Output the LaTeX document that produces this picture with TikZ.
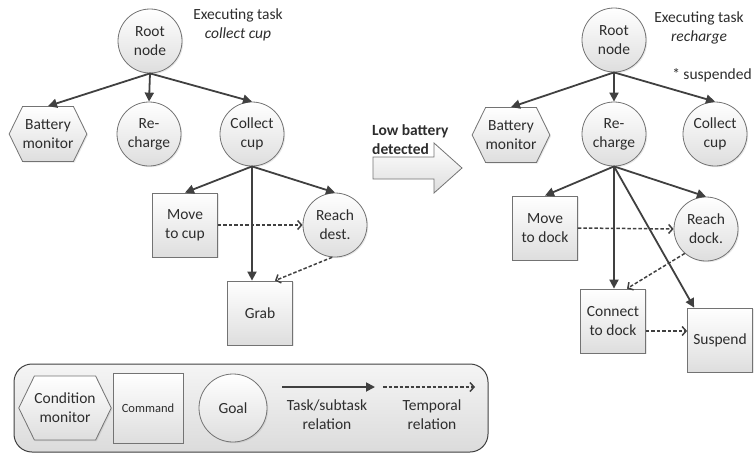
\documentclass[tikz,border=0pt]{standalone}
\usepackage{fontspec}
\setmainfont{Carlito}
\usetikzlibrary{arrows.meta,shapes.geometric,shapes.symbols,shadows}

\definecolor{edge}{RGB}{64,64,64}
\definecolor{rim}{RGB}{115,115,115}
\definecolor{ink}{RGB}{45,45,45}

\tikzset{
  base/.style={draw=rim, line width=0.8pt, top color=white, bottom color=black!13,
    text=ink, font=\fontsize{15.5}{19}\selectfont, align=center, inner sep=0pt,
    drop shadow={opacity=0.18, shadow xshift=1.2pt, shadow yshift=-1.2pt}},
  goal/.style={base, circle, minimum size=64pt},
  cmd/.style={base, rectangle, minimum width=65pt, minimum height=64pt},
  monitor/.style={base, signal, signal to=west and east, signal pointer angle=128,
    minimum width=76pt, minimum height=55pt},
  task/.style={draw=edge, line width=1.8pt, -{Triangle[length=9pt,width=9pt]}},
  temporal/.style={draw=edge, line width=1.5pt, dash pattern=on 3.5pt off 2pt,
    -{Straight Barb[length=4pt,width=9pt]}},
  note/.style={text=ink, font=\fontsize{15.5}{19}\selectfont, align=center, inner sep=0pt},
}

\begin{document}
\begin{tikzpicture}[x=1pt, y=-1pt]
\useasboundingbox (0,0) rectangle (755,453);

% ---------- tree before the switch ----------
\node[goal] (rootA) at (150,41) {Root\\node};
\node[note] (execA) at (238,25) {Executing task\\\textit{collect cup}};
\node[monitor] (batA) at (48,134) {Battery\\monitor};
\node[goal] (rechA) at (149,134) {Re-\\charge};
\node[goal] (collA) at (252,134) {Collect\\cup};
\node[cmd] (moveA) at (185,225) {Move\\to cup};
\node[goal] (reachA) at (335,225) {Reach\\dest.};
\node[cmd] (grabA) at (260,313) {Grab};

\draw[task] (rootA.south) -- (batA.north);
\draw[task] (rootA.south) -- (rechA.north);
\draw[task] (rootA.south) -- (collA.north);
\draw[task] (collA.south) -- (moveA.north);
\draw[task] (collA.south) -- (reachA.north);
\draw[task] (collA.south) -- (collA.south |- grabA.north);
\draw[temporal] (moveA.east) -- (reachA.west);
\draw[temporal] (reachA.265) -- ([xshift=15pt]grabA.north);

% ---------- transition arrow ----------
\node[note, anchor=west, align=left, font=\fontsize{15.5}{19}\selectfont\bfseries] (low) at (372,140) {Low battery\\detected};
\draw[draw=rim, line width=0.8pt, top color=white, bottom color=black!13]
  (373,157) -- (434,157) -- (434,143) -- (462,168) -- (434,193) -- (434,179) -- (373,179) -- cycle;

% ---------- tree after the switch ----------
\node[goal] (rootB) at (614,40) {Root\\node};
\node[note] (execB) at (699,28) {Executing task\\\textit{recharge}};
\node[note] (susp) at (712,75) {* suspended};
\node[monitor] (batB) at (511,135) {Battery\\monitor};
\node[goal] (rechB) at (614,134) {Re-\\charge};
\node[goal] (collB) at (715,134) {Collect\\cup};
\node[cmd] (moveB) at (545,228) {Move\\to dock};
\node[goal] (reachB) at (706,229) {Reach\\dock.};
\node[cmd] (connB) at (613,321) {Connect\\to dock};
\node[cmd] (suspB) at (720,340) {Suspend};

\draw[task] (rootB.south) -- (batB.north);
\draw[task] (rootB.south) -- (rechB.north);
\draw[task] (rootB.south) -- (collB.north);
\draw[task] (rechB.south) -- (moveB.north);
\draw[task] (rechB.south) -- (reachB.north);
\draw[task] (rechB.south) -- (rechB.south |- connB.north);
\draw[task] (rechB.south) -- ([xshift=7pt]suspB.north west);
\draw[temporal] (moveB.east) -- (reachB.west);
\draw[temporal] (reachB.229) -- ([xshift=14pt]connB.north);
\draw[temporal] ([yshift=-10pt]connB.east) -- ([yshift=-10pt]connB.east -| suspB.west);

% ---------- legend ----------
\draw[draw=edge, line width=1pt, rounded corners=18pt, top color=black!4, bottom color=black!14]
  (14,364) rectangle (488,452);
\node[monitor, minimum width=86pt, minimum height=64pt] (legMon) at (65,408) {Condition\\monitor};
\node[cmd, minimum width=70pt, minimum height=70pt, font=\fontsize{12.5}{15}\selectfont] (legCmd) at (148,408) {Command};
\node[goal, minimum size=68pt] (legGoal) at (233,408) {Goal};
\coordinate (taskFrom) at (282,387);
\coordinate (taskTo) at (375,387);
\coordinate (tempFrom) at (383,387);
\coordinate (tempTo) at (475,387);
\draw[task] (taskFrom) -- (taskTo);
\draw[temporal] (tempFrom) -- (tempTo);
\node[note] (legTask) at (327,415) {Task/subtask\\relation};
\node[note] (legTemp) at (432,415) {Temporal\\relation};
\end{tikzpicture}
\end{document}
